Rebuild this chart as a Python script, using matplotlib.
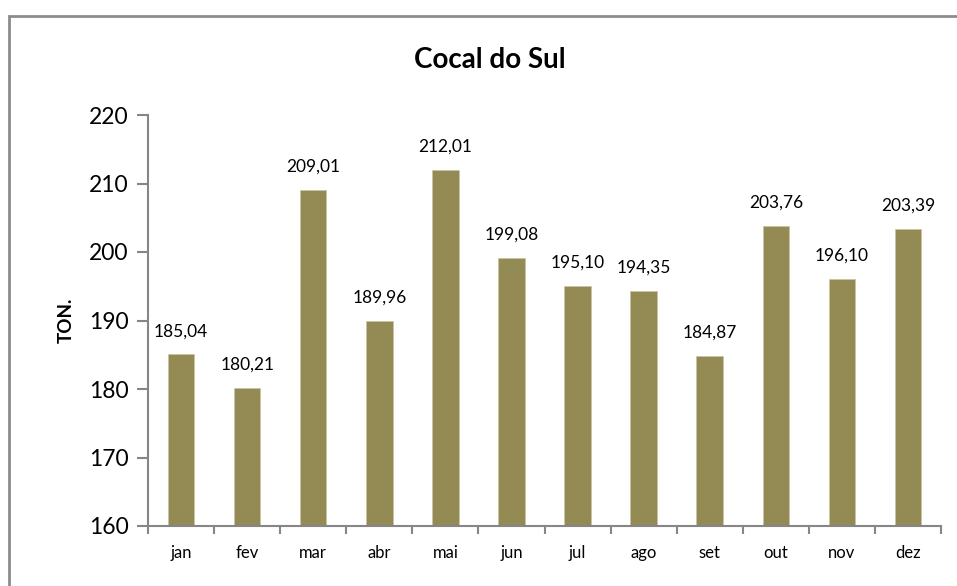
import matplotlib.pyplot as plt
from matplotlib.patches import Rectangle

meses = ["jan", "fev", "mar", "abr", "mai", "jun", "jul", "ago", "set", "out", "nov", "dez"]
toneladas = [185.04, 180.21, 209.01, 189.96, 212.01, 199.08, 195.10, 194.35, 184.87, 203.76, 196.10, 203.39]

plt.rcParams['font.family'] = ['Lato', 'DejaVu Sans']

fig = plt.figure(figsize=(9.57, 5.86), dpi=100)
# chart area border (cut off at right/bottom like the original)
fig.patches.append(Rectangle((9 / 957, -0.1), 1.2, 1 - 16 / 586 + 0.1, transform=fig.transFigure,
                             fill=False, edgecolor="#8c8c8c", linewidth=2))

ax = fig.add_axes([148 / 957, 1 - 526 / 586, (941 - 148) / 957, (526 - 115) / 586])
x = range(len(meses))
ax.bar(x, [v - 160 for v in toneladas], bottom=160, width=0.4, color="#948A54",
       edgecolor="#c9c4a4", linewidth=0.6)

for i, v in enumerate(toneladas):
    ax.annotate(f"{v:.2f}".replace(".", ","), (i, v), xytext=(0, 11), textcoords="offset points",
                ha="center", va="bottom", fontsize=12.5)

ax.set_ylim(160, 220)
ax.set_yticks(range(160, 221, 10))
ax.set_xlim(-0.5, len(meses) - 0.5)
ax.set_xticks(x)
ax.set_xticklabels(meses, fontsize=12)
ax.set_xticks([i - 0.5 for i in range(len(meses) + 1)], minor=True)
ax.tick_params(axis="x", which="major", length=0, pad=14)
ax.tick_params(axis="x", which="minor", length=6, color="#868686", width=1.5)
ax.tick_params(axis="y", length=8, color="#868686", width=1.5, labelsize=16.5, pad=6)

for s in ["top", "right"]:
    ax.spines[s].set_visible(False)
for s in ["left", "bottom"]:
    ax.spines[s].set_color("#868686")
    ax.spines[s].set_linewidth(1.5)

ax.set_ylabel("TON.", fontsize=13.5, fontweight="bold", labelpad=10)
fig.text(490 / 957, 1 - 60 / 586, "Cocal do Sul", ha="center", va="center", fontsize=20, fontweight="bold")

fig.savefig("out.png", dpi=100)
